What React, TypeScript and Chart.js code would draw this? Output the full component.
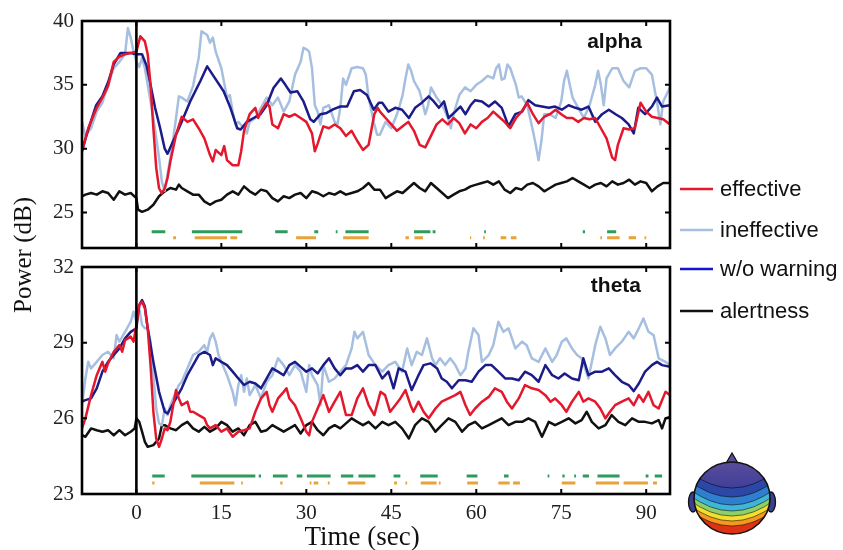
import React, { useEffect, useRef } from "react";
import { Chart, registerables } from "chart.js";
Chart.register(...registerables);

const W = 843;
const H = 550;
const PLOT_LEFT = 82;
const PLOT_RIGHT = 670;
const X_MIN = -9.6;
const X_MAX = 94.2;

const xTickValues = [0, 15, 30, 45, 60, 75, 90];
const alphaYTicks = [25, 30, 35, 40];
const thetaYTicks = [23, 26, 29, 32];

const legendLabels = ["effective", "ineffective", "w/o warning", "alertness"];

// ---------------- alpha band ----------------
const alphaEffective: [number, number][] = [
  [-9.6, 29.8], [-8.5, 31.6], [-7, 33.2], [-6, 34.0], [-5, 34.9], [-4, 36.8], [-3, 37.2], [-2, 37.4], [-1, 37.5], [0, 37.6],
  [0.7, 38.8], [1.5, 38.4], [2, 37.4], [2.5, 35.0], [3, 31.6], [3.5, 28.5], [4, 26.9], [4.5, 26.5], [5, 26.9], [5.5, 27.7],
  [6, 29.0], [7, 31.1], [8, 32.5], [9, 32.1], [10, 32.3], [11, 31.6], [12, 30.8], [13, 29.5], [13.5, 29.0], [14, 29.9],
  [15, 29.5], [15.5, 30.2], [16, 29.1], [17, 28.7], [18, 28.7], [18.5, 29.8], [19, 31.4], [20, 32.7], [21, 33.2], [21.5, 32.4],
  [22, 32.9], [23, 33.6], [23.5, 33.3], [24, 31.9], [25, 31.6], [26, 32.7], [27, 32.5], [28, 32.7], [29, 32.4], [30, 32.1],
  [31, 31.2], [31.5, 29.8], [32, 30.4], [33, 31.75], [34, 31.6], [35, 31.9], [36, 31.6], [37, 31.0], [38, 31.4], [39, 30.6],
  [40, 29.9], [41, 30.3], [42, 32.7], [42.6, 33.2], [43, 32.9], [44, 32.4], [45, 31.9], [46, 31.4], [47, 31.75], [48, 32.1],
  [49, 31.4], [50, 30.3], [51, 30.1], [52, 31.0], [53, 31.9], [54, 32.3], [55, 31.9], [56, 32.4], [57, 32.0], [58, 31.2],
  [59, 31.9], [60, 31.6], [61, 32.1], [62, 32.4], [63, 32.9], [64, 32.5], [65, 32.1], [66, 31.6], [67, 32.4], [68, 32.9],
  [69, 33.6], [70, 32.7], [71, 32.0], [72, 32.5], [73, 32.7], [74, 33.05], [75, 32.7], [76, 32.4], [77, 32.4], [78, 32.1],
  [79, 32.4], [80, 32.3], [81, 32.4], [82, 31.6], [83, 30.8], [84, 29.3], [84.5, 29.1], [85, 30.3], [86, 31.6], [87, 31.5],
  [88, 31.6], [89, 33.6], [90, 32.9], [91, 32.5], [92, 32.4], [93, 32.3], [94.2, 31.9],
];

const alphaWithoutWarning: [number, number][] = [
  [-9.6, 29.8], [-8.5, 31.5], [-7.1, 33.4], [-6, 34.1], [-5, 35.2], [-4, 36.6], [-2.8, 37.5], [-1, 37.5], [0, 37.4], [1, 37.4],
  [1.8, 36.5], [2.5, 35.0], [3.3, 33.2], [4.2, 31.6], [5, 30.0], [5.5, 29.6], [6.5, 30.6], [7.8, 31.9], [9.5, 33.7], [11.3, 35.3],
  [12.5, 36.45], [13.6, 35.7], [15.4, 34.5], [16.6, 33.2], [17.8, 31.6], [18.4, 31.5], [19.5, 32.1], [20.7, 32.4], [21.9, 32.7], [23, 33.4],
  [24.2, 34.75], [25.5, 35.5], [26.3, 35.0], [27.2, 34.4], [28.4, 34.5], [29.5, 33.7], [30.7, 32.3], [31.3, 32.1], [32.5, 32.7], [33.6, 32.8],
  [34.8, 33.1], [36, 33.3], [37.2, 33.3], [38.4, 34.5], [39.5, 34.6], [40.7, 34.2], [41.9, 33.05], [42.8, 33.6], [43.4, 33.6], [44.5, 32.9],
  [45.7, 33.2], [46.9, 33.05], [48.1, 32.4], [49.2, 33.2], [50.4, 33.6], [51.6, 34.1], [52.5, 33.7], [53.4, 33.2], [54.3, 33.7], [55.1, 32.4],
  [56.3, 32.9], [57.2, 33.3], [58.1, 32.7], [59, 33.4], [59.8, 33.8], [61, 33.7], [62.2, 33.3], [63.3, 33.7], [64.5, 33.2], [65.7, 31.75],
  [66.9, 32.7], [68.1, 32.9], [69.2, 33.8], [70.4, 33.4], [71.6, 33.3], [72.8, 33.2], [73.9, 33.3], [75.1, 33.05], [76.3, 33.4], [77.5, 33.2],
  [78.6, 33.05], [79.8, 33.3], [81, 32.1], [82.2, 32.7], [83.4, 33.05], [84.6, 32.7], [85.7, 32.4], [86.9, 31.9], [87.8, 31.2], [88.6, 33.2],
  [89.8, 32.7], [91, 33.3], [91.9, 34.0], [92.8, 33.3], [94.2, 33.4],
];

const alphaIneffective: [number, number][] = [
  [-9.6, 32.1], [-9, 31.0], [-8, 31.6], [-7, 32.9], [-6, 33.6], [-5, 35.0], [-4, 36.3], [-3, 36.8], [-2, 37.4], [-1.5, 39.45],
  [-1, 38.7], [-0.5, 37.6], [0, 36.8], [0.5, 36.4], [1, 37.1], [1.5, 36.3], [2, 35.0], [3, 32.4], [4, 29.3], [4.5, 27.4],
  [5, 26.7], [5.5, 28.0], [6, 29.3], [6.5, 30.8], [7, 32.4], [7.5, 34.1], [8, 34.0], [9, 33.7], [10, 34.9], [11, 37.1],
  [11.5, 39.2], [12.5, 38.9], [13, 38.3], [13.5, 38.7], [14, 37.6], [15, 36.3], [16, 34.0], [16.5, 34.2], [17, 32.9], [17.5, 31.9],
  [18, 32.1], [19, 31.6], [19.5, 31.2], [20, 32.1], [21, 32.4], [22, 33.2], [23, 34.0], [24, 33.4], [25, 34.0], [26, 32.9],
  [27, 33.7], [28, 35.8], [29, 36.8], [29.5, 37.9], [30, 37.8], [30.5, 37.6], [31, 36.3], [31.5, 33.4], [32, 32.9], [32.5, 31.9],
  [33, 33.2], [34, 33.4], [35, 32.1], [35.5, 31.9], [36, 33.2], [36.5, 35.5], [37, 35.0], [38, 36.3], [39, 36.4], [40, 36.3],
  [40.5, 35.8], [41, 34.0], [42, 31.9], [42.5, 31.1], [43, 31.1], [44, 32.1], [45, 31.6], [46, 32.7], [46.5, 33.4], [47, 34.2],
  [47.5, 35.5], [48, 36.6], [48.5, 36.1], [49, 35.3], [50, 34.5], [51, 32.7], [51.5, 33.4], [52, 34.8], [53, 34.0], [54, 33.4],
  [55, 32.4], [55.5, 31.6], [56, 32.7], [57, 34.2], [58, 34.8], [59, 34.5], [60, 35.0], [61, 35.3], [62, 35.7], [63, 35.5],
  [63.5, 36.3], [64, 36.6], [64.5, 35.4], [65, 35.5], [65.5, 36.6], [66, 36.3], [67, 35.0], [67.5, 34.0], [68, 34.1], [69, 33.4],
  [70, 31.4], [70.5, 30.3], [71, 29.1], [71.5, 30.6], [72, 32.7], [73, 32.7], [74, 32.4], [75, 33.7], [75.5, 35.3], [76, 36.1],
  [76.5, 35.0], [77, 34.0], [78, 33.2], [79, 32.4], [80, 33.4], [81, 35.0], [81.5, 36.1], [82, 35.0], [82.5, 33.4], [83, 35.5],
  [84, 36.3], [85, 36.3], [86, 35.3], [87, 34.8], [88, 36.1], [89, 36.3], [90, 36.3], [91, 35.8], [92, 33.4], [92.5, 31.9],
  [93, 33.7], [94.2, 34.8],
];

const alphaAlertness: [number, number][] = [
  [-9.6, 26.27], [-9, 26.4], [-8, 26.53], [-7, 26.4], [-6, 26.66], [-5, 26.53], [-4, 26.0], [-3, 26.66], [-2, 26.4], [-1, 26.53],
  [0, 26.13], [0.3, 25.22], [1, 25.05], [2, 25.22], [3, 25.61], [4, 26.27], [5, 26.66], [6, 26.92], [7, 26.79], [7.5, 27.18],
  [8, 26.92], [9, 26.66], [10, 26.4], [11, 26.4], [12, 25.87], [13, 25.61], [14, 25.87], [15, 26.0], [16, 26.4], [17, 26.66],
  [18, 26.4], [19, 27.05], [20, 26.66], [21, 26.4], [22, 26.79], [23, 26.66], [24, 26.13], [25, 25.87], [26, 26.27], [27, 26.13],
  [28, 26.4], [29, 26.53], [30, 26.13], [31, 26.66], [32, 26.53], [33, 26.27], [34, 26.53], [35, 26.4], [36, 26.66], [37, 26.4],
  [38, 26.53], [39, 26.66], [40, 26.92], [41, 27.31], [42, 26.79], [43, 26.79], [44, 26.13], [45, 26.4], [46, 26.66], [47, 26.53],
  [48, 26.92], [49, 27.31], [50, 26.92], [51, 26.66], [52, 27.31], [53, 26.92], [54, 26.53], [55, 26.13], [56, 26.4], [57, 26.66],
  [58, 26.79], [59, 27.05], [60, 27.18], [61, 27.31], [62, 27.44], [63, 27.18], [64, 27.44], [65, 26.79], [66, 26.53], [67, 26.92],
  [68, 26.79], [69, 27.18], [70, 27.31], [71, 27.05], [72, 26.66], [73, 26.92], [74, 27.18], [75, 27.31], [76, 27.44], [77, 27.7],
  [78, 27.44], [79, 27.18], [80, 26.92], [81, 27.18], [82, 27.31], [83, 27.05], [84, 27.44], [85, 27.18], [86, 27.31], [87, 27.57],
  [88, 27.18], [89, 27.44], [90, 27.31], [91, 26.66], [92, 27.05], [93, 27.31], [94.2, 27.31],
];

const alphaGreenSegments: [number, number][] = [
  [2.7, 5.1], [9.8, 18.7], [24.5, 26.7], [31.4, 32.1], [35.2, 35.5], [36.9, 41.0], [49.0, 51.9], [52.3, 52.8], [61.4, 61.7],
  [78.8, 79.2], [83.1, 84.7],
];
const alphaOrangeSegments: [number, number][] = [
  [6.5, 7.0], [10.3, 16.0], [16.6, 17.8], [28.2, 31.7], [36.5, 41.0], [47.5, 48.1], [49.1, 50.6], [58.9, 59.1], [61.2, 61.5],
  [64.3, 65.3], [66.1, 67.1], [81.9, 82.2], [83.1, 85.3], [86.9, 88.2], [89.7, 90.0],
];

// ---------------- theta band ----------------
const thetaEffective: [number, number][] = [
  [-9.6, 25.6], [-9, 26.0], [-8, 26.92], [-7, 27.71], [-6, 28.24], [-5.5, 27.85], [-5, 28.18], [-4, 28.64], [-3, 28.9], [-2.5, 28.64],
  [-2, 29.1], [-1, 29.24], [-0.5, 29.04], [0, 29.7], [0.5, 30.49], [1, 30.62], [1.5, 30.36], [2, 29.57], [2.5, 28.11], [3, 26.26],
  [3.5, 25.2], [4, 24.87], [4.5, 25.2], [5, 25.6], [5.5, 25.53], [6, 25.86], [6.5, 26.52], [7, 27.12], [7.5, 26.79], [8, 26.52],
  [9, 26.66], [9.5, 26.26], [10, 26.26], [11, 26.13], [12, 26.0], [12.5, 25.73], [13, 25.6], [14, 25.73], [15, 25.47], [16, 25.6],
  [17, 25.27], [18, 25.47], [19, 25.53], [20, 25.6], [21, 26.26], [22, 26.79], [23, 27.05], [23.5, 26.52], [24, 26.26], [25, 26.79],
  [26, 27.05], [26.5, 27.19], [27, 26.79], [28, 26.52], [29, 26.0], [30, 25.47], [30.5, 25.33], [31, 25.86], [32, 26.39], [33, 26.92],
  [34, 26.26], [35, 26.66], [36, 27.05], [37, 26.13], [38, 26.13], [39, 26.79], [40, 27.19], [41, 26.52], [42, 26.13], [43.1, 27.05],
  [43.9, 26.92], [44.8, 26.26], [45.7, 26.52], [46.6, 26.79], [47.5, 27.12], [48.4, 26.52], [48.9, 26.26], [49.8, 26.66], [50.7, 26.26], [51.6, 26.0],
  [52.8, 26.39], [53.9, 26.66], [55.1, 26.79], [56.3, 26.92], [57.2, 27.05], [58.1, 26.52], [58.9, 26.13], [59.8, 26.39], [61.0, 26.66], [62.2, 26.85],
  [63.3, 27.19], [64.5, 27.05], [65.4, 26.66], [66.3, 26.39], [67.5, 26.79], [68.6, 27.32], [69.8, 27.19], [71.0, 27.12], [72.2, 26.92], [73.1, 26.66],
  [73.9, 26.79], [75.1, 26.52], [75.9, 26.26], [76.9, 26.66], [78.1, 27.05], [78.9, 26.66], [79.8, 26.79], [81.0, 26.66], [81.9, 26.39], [82.8, 26.0],
  [83.6, 26.26], [84.5, 26.52], [85.7, 26.66], [86.9, 26.79], [87.8, 26.52], [88.7, 26.92], [89.5, 26.66], [90.4, 27.05], [91.3, 26.52], [92.2, 26.39],
  [93.4, 27.05], [94.2, 26.92],
];

const thetaWithoutWarning: [number, number][] = [
  [-9.6, 26.66], [-9, 26.72], [-8, 26.79], [-7, 27.19], [-6, 27.85], [-5, 28.24], [-4, 28.51], [-3, 28.77], [-2, 29.17], [-1, 29.43],
  [0, 29.57], [0.5, 30.49], [1, 30.69], [1.5, 30.43], [2, 29.57], [3, 28.24], [4, 27.05], [5, 26.26], [5.5, 26.19], [6, 26.39],
  [7, 26.79], [8, 27.19], [9, 27.71], [10, 28.11], [11, 28.51], [12, 28.64], [13, 28.51], [13.5, 28.11], [14, 28.38], [15, 28.24],
  [16, 28.11], [17, 27.85], [18, 27.58], [19, 27.32], [20, 27.45], [21, 27.38], [22, 27.19], [23, 27.58], [24, 27.98], [25, 27.85],
  [26, 27.71], [27, 28.11], [28, 28.24], [29, 28.04], [30, 27.85], [31, 27.98], [32, 27.78], [33, 28.11], [34, 28.38], [35, 27.98],
  [36, 27.71], [37, 27.98], [38, 27.98], [39, 28.11], [40, 27.85], [41, 28.11], [42.2, 28.11], [43.4, 27.58], [44.5, 27.85], [45.4, 27.19],
  [46.3, 27.98], [47.5, 27.85], [48.6, 27.12], [49.8, 27.71], [50.7, 28.11], [51.9, 28.18], [53.1, 27.98], [53.9, 27.58], [54.8, 27.45], [55.7, 27.19],
  [56.9, 27.51], [58.1, 27.51], [59.2, 27.45], [60.4, 27.85], [61.6, 28.11], [62.7, 28.11], [63.9, 27.85], [65.1, 27.58], [66.3, 27.58], [67.5, 27.51],
  [68.6, 27.85], [69.8, 27.71], [71.0, 27.45], [72.2, 28.11], [73.4, 27.71], [74.5, 27.58], [75.6, 27.78], [76.9, 27.58], [78.1, 27.51], [78.9, 28.38],
  [79.8, 27.71], [81.0, 27.85], [82.2, 27.85], [83.4, 27.98], [84.5, 27.71], [85.7, 27.45], [86.9, 27.32], [87.8, 27.08], [88.7, 27.38], [89.8, 27.85],
  [91.0, 28.11], [91.9, 28.24], [92.8, 28.11], [94.2, 28.04],
];

const thetaIneffective: [number, number][] = [
  [-9.6, 26.52], [-9, 27.58], [-8.5, 28.24], [-8, 27.98], [-7, 28.24], [-6, 28.51], [-5, 28.64], [-4, 28.38], [-3.5, 29.3], [-3, 29.04],
  [-2, 29.43], [-1, 29.83], [-0.5, 30.23], [0, 29.83], [0.5, 30.36], [1, 29.7], [1.5, 29.57], [2, 29.57], [2.5, 29.04], [3, 27.71],
  [3.5, 26.39], [4, 25.8], [4.5, 25.73], [5, 26.39], [5.5, 26.13], [6, 26.52], [7, 27.05], [7.5, 27.32], [8, 27.45], [9, 27.98],
  [10, 28.51], [11, 28.64], [12, 28.9], [12.5, 28.64], [13, 29.17], [13.5, 29.37], [14, 29.04], [14.5, 28.51], [15, 28.24], [16, 27.71],
  [17, 27.05], [17.5, 26.52], [18, 27.32], [18.5, 27.71], [19, 27.05], [19.5, 27.58], [20, 26.92], [21, 27.32], [22, 26.79], [23, 27.45],
  [24, 27.71], [25, 28.38], [26, 28.11], [27, 27.71], [28, 28.11], [29, 27.85], [30, 27.05], [30.5, 28.11], [31, 27.71], [32, 27.32],
  [32.5, 26.52], [33, 28.11], [34, 27.45], [35, 27.58], [36, 27.85], [37, 28.11], [38, 28.77], [38.5, 29.43], [39, 29.17], [40, 29.43],
  [41, 28.51], [42.2, 28.11], [43.4, 27.85], [44.5, 28.11], [45.7, 28.24], [46.9, 27.85], [47.8, 28.77], [48.6, 28.11], [49.5, 28.64], [50.4, 28.51],
  [51.3, 29.17], [52.2, 28.38], [52.8, 28.11], [53.6, 28.38], [54.5, 28.11], [55.4, 28.38], [56.3, 28.11], [57.2, 27.71], [58.1, 27.98], [58.6, 28.64],
  [59.5, 29.57], [60.4, 29.3], [61.0, 28.24], [62.2, 28.51], [63.0, 28.9], [63.9, 29.83], [64.8, 29.43], [65.7, 29.57], [66.9, 28.77], [68.1, 29.04],
  [68.9, 28.9], [69.8, 28.38], [71.0, 28.24], [72.2, 28.77], [73.4, 28.24], [74.2, 28.51], [75.1, 29.04], [75.9, 29.17], [76.9, 28.77], [77.8, 28.51],
  [78.6, 28.38], [79.8, 27.58], [81.0, 28.9], [81.9, 29.63], [82.8, 29.17], [83.6, 28.51], [84.5, 28.77], [85.7, 29.04], [86.9, 29.43], [87.8, 29.17],
  [88.7, 29.57], [89.5, 29.96], [90.4, 29.43], [91.3, 29.3], [92.2, 28.38], [93.4, 28.24], [94.2, 28.11],
];

const thetaAlertness: [number, number][] = [
  [-9.6, 25.33], [-9, 25.27], [-8, 25.6], [-7, 25.53], [-6, 25.47], [-5, 25.53], [-4, 25.33], [-3, 25.53], [-2, 25.33], [-1, 25.47],
  [-0.3, 25.6], [0, 26.0], [0.5, 25.86], [1, 25.47], [1.5, 25.07], [2, 24.87], [3, 24.94], [4, 25.2], [4.5, 25.73], [5, 25.73],
  [6, 25.6], [7, 25.53], [8, 25.73], [9, 25.86], [10, 25.6], [11, 25.47], [12, 25.66], [13, 25.47], [14, 25.6], [15, 25.86],
  [16, 25.73], [17, 25.47], [18, 25.6], [19, 25.33], [20, 25.73], [21, 25.86], [22, 25.47], [23, 25.53], [24, 25.73], [25, 25.6],
  [26, 25.47], [27, 25.6], [28, 25.73], [29, 25.4], [30, 25.73], [31, 25.86], [32, 25.53], [33, 25.33], [34, 25.6], [35, 25.73],
  [36, 25.6], [37, 25.8], [38, 26.0], [39, 25.86], [40, 25.73], [41, 25.86], [42.2, 25.6], [43.4, 25.86], [44.5, 25.73], [45.7, 25.86],
  [46.9, 25.6], [48.1, 25.2], [49.2, 25.73], [50.4, 26.0], [51.6, 25.86], [52.8, 25.47], [53.9, 25.73], [55.1, 26.0], [56.3, 25.86], [57.5, 25.47],
  [58.6, 25.73], [59.8, 25.86], [61.0, 25.6], [62.2, 25.73], [63.3, 25.86], [64.5, 26.0], [65.7, 25.73], [66.9, 25.86], [68.1, 25.86], [69.2, 26.0],
  [70.4, 25.86], [71.6, 25.27], [72.8, 25.86], [73.9, 25.73], [75.1, 25.86], [76.3, 26.0], [77.5, 25.8], [78.6, 25.93], [79.5, 26.26], [80.4, 25.86],
  [81.6, 25.6], [82.8, 25.73], [83.9, 26.13], [85.1, 25.86], [86.3, 25.73], [87.5, 26.0], [88.7, 25.86], [89.8, 25.86], [91.0, 25.8], [92.2, 25.93],
  [92.8, 25.6], [93.4, 26.0], [94.2, 26.06],
];

const thetaGreenSegments: [number, number][] = [
  [2.8, 5.0], [9.7, 21.0], [21.6, 22.0], [24.1, 26.7], [28.3, 29.3], [30.1, 34.3], [36.1, 38.3], [39.2, 42.2], [45.4, 46.6],
  [50.1, 53.2], [58.3, 60.2], [64.9, 65.7], [72.6, 72.9], [75.2, 75.6], [77.3, 77.6], [78.8, 79.9], [81.4, 85.3], [89.9, 90.4],
  [91.5, 92.8],
];
const thetaOrangeSegments: [number, number][] = [
  [2.8, 3.2], [11.2, 17.3], [18.5, 18.8], [25.4, 25.8], [30.6, 30.9], [31.3, 32.1], [33.8, 34.1], [37.3, 40.4], [45.5, 46.0],
  [47.5, 47.8], [50.2, 53.0], [53.4, 53.7], [58.4, 60.3], [63.9, 65.9], [66.5, 67.7], [75.1, 77.5], [81.1, 85.2], [86.0, 90.3],
  [91.2, 91.9],
];

// significance bar levels (in dB on each panel's own axis)
const alphaGreenLevel = 23.5;
const alphaOrangeLevel = 23.03;
const thetaGreenLevel = 23.71;
const thetaOrangeLevel = 23.44;

// ---------------- styles ----------------
const C_RED = "#e3182d";
const C_NAVY = "#1c1c88";
const C_LIGHT = "#a6bfe0";
const C_BLACK = "#111111";
const C_GREEN = "#2e9a5c";
const C_ORANGE = "#e9a23a";
const C_LEGEND_BLUE = "#1414c8";

const SERIF = "'Liberation Serif', 'Times New Roman', serif";
const SANS = "'Liberation Sans', Arial, sans-serif";

function toPoints(arr: [number, number][]) {
  return arr.map(([x, y]) => ({ x, y }));
}

function segPoints(segs: [number, number][], level: number) {
  const pts: { x: number; y: number | null }[] = [];
  segs.forEach(([s, e], i) => {
    pts.push({ x: s, y: level }, { x: e, y: level });
    if (i < segs.length - 1) pts.push({ x: (e + segs[i + 1][0]) / 2, y: null });
  });
  return pts;
}

function lineDs(label: string, arr: [number, number][], color: string) {
  return {
    label,
    data: toPoints(arr),
    borderColor: color,
    backgroundColor: color,
    borderWidth: 2.5,
    pointRadius: 0,
    tension: 0,
    fill: false,
    borderJoinStyle: "round" as const,
  };
}

function barDs(segs: [number, number][], level: number, color: string) {
  return {
    label: "",
    data: segPoints(segs, level),
    borderColor: color,
    backgroundColor: color,
    borderWidth: 3,
    pointRadius: 0,
    spanGaps: false,
    tension: 0,
    fill: false,
    borderCapStyle: "butt" as const,
  };
}

type Panel = {
  top: number;
  bottom: number;
  yMin: number;
  yMax: number;
  yTicks: number[];
  name: string;
  nameX: number;
  nameY: number;
  showX: boolean;
  effective: [number, number][];
  wow: [number, number][];
  ineffective: [number, number][];
  alert: [number, number][];
  green: [number, number][];
  orange: [number, number][];
  greenLevel: number;
  orangeLevel: number;
  extras: boolean;
};

function drawHead(ctx: CanvasRenderingContext2D) {
  const cx = 732;
  const cy = 498;
  const rx = 38;
  const ry = 36;
  ctx.save();
  // nose
  ctx.beginPath();
  ctx.moveTo(cx - 7, cy - ry + 3);
  ctx.lineTo(cx, cy - ry - 9);
  ctx.lineTo(cx + 7, cy - ry + 3);
  ctx.closePath();
  ctx.fillStyle = "#5a4c9c";
  ctx.fill();
  ctx.lineWidth = 1.3;
  ctx.strokeStyle = "#111";
  ctx.stroke();
  // ears
  for (const side of [-1, 1]) {
    ctx.beginPath();
    ctx.ellipse(cx + side * (rx + 1), cy + 4, 4.5, 10, 0, 0, Math.PI * 2);
    ctx.fillStyle = "#3b3f8e";
    ctx.fill();
    ctx.stroke();
  }
  // head
  ctx.beginPath();
  ctx.ellipse(cx, cy, rx, ry, 0, 0, Math.PI * 2);
  ctx.save();
  ctx.clip();
  const g = ctx.createLinearGradient(0, cy - ry, 0, cy);
  g.addColorStop(0, "#5a4c9c");
  g.addColorStop(1, "#353b98");
  ctx.fillStyle = g;
  ctx.fillRect(cx - rx - 2, cy - ry - 2, 2 * rx + 4, 2 * ry + 4);
  const bands: [number, string][] = [
    [cy - 10, "#2d47a6"],
    [cy - 1, "#2f7fcf"],
    [cy + 7, "#3fb5d8"],
    [cy + 13, "#8fcf6a"],
    [cy + 18, "#f2de2e"],
    [cy + 23, "#f5981f"],
    [cy + 28, "#dd3315"],
  ];
  for (const [yk, col] of bands) {
    ctx.beginPath();
    ctx.moveTo(cx - rx - 6, yk - 17);
    ctx.quadraticCurveTo(cx, yk + 17, cx + rx + 6, yk - 17);
    ctx.lineTo(cx + rx + 6, cy + ry + 6);
    ctx.lineTo(cx - rx - 6, cy + ry + 6);
    ctx.closePath();
    ctx.fillStyle = col;
    ctx.fill();
    ctx.beginPath();
    ctx.moveTo(cx - rx - 6, yk - 17);
    ctx.quadraticCurveTo(cx, yk + 17, cx + rx + 6, yk - 17);
    ctx.lineWidth = 0.7;
    ctx.strokeStyle = "rgba(0,0,0,0.75)";
    ctx.stroke();
  }
  ctx.restore();
  ctx.beginPath();
  ctx.ellipse(cx, cy, rx, ry, 0, 0, Math.PI * 2);
  ctx.lineWidth = 1.6;
  ctx.strokeStyle = "#111";
  ctx.stroke();
  ctx.restore();
}

function framePlugin(p: Panel) {
  return {
    id: "frame_" + p.name,
    afterDatasetsDraw(chart: any) {
      const { ctx, chartArea: a, scales } = chart;
      const xs = scales.x;
      const ys = scales.y;
      ctx.save();
      ctx.strokeStyle = "#000";
      ctx.lineCap = "butt";
      // zero line
      const zx = xs.getPixelForValue(0);
      ctx.lineWidth = 2.6;
      ctx.beginPath();
      ctx.moveTo(zx, a.top);
      ctx.lineTo(zx, a.bottom);
      ctx.stroke();
      // frame
      ctx.lineWidth = 2.6;
      ctx.strokeRect(a.left, a.top, a.right - a.left, a.bottom - a.top);
      // inward ticks
      ctx.lineWidth = 2;
      const tl = 5;
      for (const v of xTickValues) {
        const px = xs.getPixelForValue(v);
        ctx.beginPath();
        ctx.moveTo(px, a.bottom);
        ctx.lineTo(px, a.bottom - tl);
        ctx.moveTo(px, a.top);
        ctx.lineTo(px, a.top + tl);
        ctx.stroke();
      }
      for (const v of p.yTicks) {
        const py = ys.getPixelForValue(v);
        ctx.beginPath();
        ctx.moveTo(a.left, py);
        ctx.lineTo(a.left + tl, py);
        ctx.moveTo(a.right, py);
        ctx.lineTo(a.right - tl, py);
        ctx.stroke();
      }
      // panel name
      ctx.fillStyle = "#111";
      ctx.font = `bold 21px ${SANS}`;
      ctx.textAlign = "right";
      ctx.textBaseline = "middle";
      ctx.fillText(p.name, p.nameX, p.nameY);

      if (p.extras) {
        // legend
        const colors = [C_RED, C_LIGHT, C_LEGEND_BLUE, C_BLACK];
        const ly = [189, 230, 269, 311];
        ctx.font = `22px ${SANS}`;
        ctx.textAlign = "left";
        ctx.textBaseline = "middle";
        legendLabels.forEach((lab, i) => {
          ctx.strokeStyle = colors[i];
          ctx.lineWidth = 2.6;
          ctx.beginPath();
          ctx.moveTo(680, ly[i]);
          ctx.lineTo(713, ly[i]);
          ctx.stroke();
          ctx.fillStyle = "#111";
          ctx.fillText(lab, 720, ly[i] + 1);
        });
        // axis titles
        ctx.fillStyle = "#111";
        ctx.font = `27px ${SERIF}`;
        ctx.textAlign = "center";
        ctx.textBaseline = "middle";
        ctx.fillText("Time (sec)", 362, 538);
        ctx.font = `25px ${SERIF}`;
        ctx.save();
        ctx.translate(24, 255);
        ctx.rotate(-Math.PI / 2);
        ctx.fillText("Power (dB)", 0, 0);
        ctx.restore();
        drawHead(ctx);
      }
      ctx.restore();
    },
  };
}

function makeConfig(p: Panel): any {
  const tickFont = { family: SERIF, size: 21 };
  return {
    type: "line",
    data: {
      datasets: [
        lineDs("effective", p.effective, C_RED),
        lineDs("w/o warning", p.wow, C_NAVY),
        lineDs("ineffective", p.ineffective, C_LIGHT),
        lineDs("alertness", p.alert, C_BLACK),
        barDs(p.green, p.greenLevel, C_GREEN),
        barDs(p.orange, p.orangeLevel, C_ORANGE),
      ],
    },
    options: {
      responsive: false,
      animation: false,
      events: [],
      layout: { padding: { left: 0, top: p.top, right: W - PLOT_RIGHT, bottom: 0 } },
      plugins: { legend: { display: false }, tooltip: { enabled: false }, title: { display: false } },
      scales: {
        x: {
          type: "linear",
          min: X_MIN,
          max: X_MAX,
          grid: { display: false, drawTicks: false, tickLength: 0 },
          border: { display: false },
          ticks: {
            display: p.showX,
            font: tickFont,
            color: "#222",
            padding: 7,
            maxRotation: 0,
            autoSkip: false,
            callback: (v: number) => String(v),
          },
          afterBuildTicks: (s: any) => {
            s.ticks = xTickValues.map((v) => ({ value: v }));
          },
          afterFit: (s: any) => {
            s.height = H - p.bottom;
          },
        },
        y: {
          type: "linear",
          min: p.yMin,
          max: p.yMax,
          grid: { display: false, drawTicks: false, tickLength: 0 },
          border: { display: false },
          ticks: {
            font: tickFont,
            color: "#222",
            padding: 8,
            autoSkip: false,
            callback: (v: number) => String(v),
          },
          afterBuildTicks: (s: any) => {
            s.ticks = p.yTicks.map((v) => ({ value: v }));
          },
          afterFit: (s: any) => {
            s.width = PLOT_LEFT;
          },
        },
      },
    },
    plugins: [framePlugin(p)],
  };
}

const alphaPanel: Panel = {
  top: 21,
  bottom: 248,
  yMin: 22.22,
  yMax: 40,
  yTicks: alphaYTicks,
  name: "alpha",
  nameX: 642,
  nameY: 42,
  showX: false,
  effective: alphaEffective,
  wow: alphaWithoutWarning,
  ineffective: alphaIneffective,
  alert: alphaAlertness,
  green: alphaGreenSegments,
  orange: alphaOrangeSegments,
  greenLevel: alphaGreenLevel,
  orangeLevel: alphaOrangeLevel,
  extras: false,
};

const thetaPanel: Panel = {
  top: 267,
  bottom: 494,
  yMin: 23,
  yMax: 32,
  yTicks: thetaYTicks,
  name: "theta",
  nameX: 641,
  nameY: 286,
  showX: true,
  effective: thetaEffective,
  wow: thetaWithoutWarning,
  ineffective: thetaIneffective,
  alert: thetaAlertness,
  green: thetaGreenSegments,
  orange: thetaOrangeSegments,
  greenLevel: thetaGreenLevel,
  orangeLevel: thetaOrangeLevel,
  extras: true,
};

export default function App() {
  const topRef = useRef<HTMLCanvasElement | null>(null);
  const botRef = useRef<HTMLCanvasElement | null>(null);

  useEffect(() => {
    if (!topRef.current || !botRef.current) return;
    const c1 = new Chart(topRef.current, makeConfig(alphaPanel));
    const c2 = new Chart(botRef.current, makeConfig(thetaPanel));
    return () => {
      c1.destroy();
      c2.destroy();
    };
  }, []);

  const canvasStyle: React.CSSProperties = { position: "absolute", left: 0, top: 0, width: W, height: H };
  return (
    <div style={{ position: "fixed", left: 0, top: 0, width: W, height: H, background: "#fff", overflow: "hidden" }}>
      <canvas ref={botRef} width={W} height={H} style={canvasStyle} />
      <canvas ref={topRef} width={W} height={H} style={canvasStyle} />
    </div>
  );
}
